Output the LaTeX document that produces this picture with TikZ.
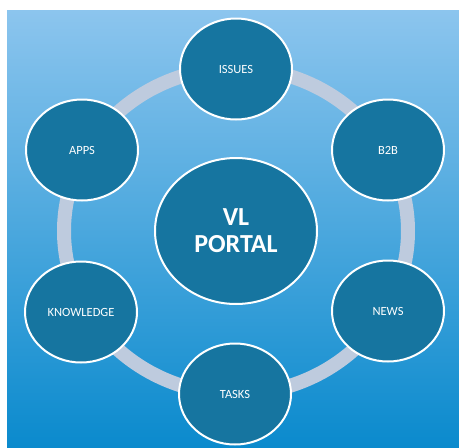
\documentclass[tikz,border=0pt]{standalone}
\usepackage{fontspec}
\setmainfont{Carlito}
\usetikzlibrary{shapes.geometric}
\definecolor{bgtop}{RGB}{140,197,238}
\definecolor{bgbot}{RGB}{10,138,205}
\definecolor{nodefill}{RGB}{22,117,160}
\definecolor{ringcol}{RGB}{190,203,222}
\tikzset{
  sat/.style={ellipse, draw=white, line width=2pt, fill=nodefill, inner sep=0pt,
    minimum width=112pt, minimum height=101pt, text=white, font=\fontsize{12.5}{14}\selectfont},
  hub/.style={ellipse, draw=white, line width=2pt, fill=nodefill, inner sep=0pt,
    minimum width=162pt, minimum height=146pt, text=white, align=center,
    font=\fontsize{26}{27}\selectfont\bfseries},
  ring/.style={draw=ringcol, line width=14pt}
}
\begin{document}
\begin{tikzpicture}[x=1pt,y=-1pt]
\useasboundingbox (0,0) rectangle (459,448);
\fill[white] (0,0) rectangle (459,448);
\shade[top color=bgtop, bottom color=bgbot] (7,10) rectangle (459,448);
\coordinate (c) at (236,231);
\draw[ring] (c) ellipse [x radius=172pt, y radius=163pt];
\node[hub] (portal) at (c) {VL\\PORTAL};
\node[sat] (issues) at (236,69) {ISSUES};
\node[sat] (apps) at (82,150) {APPS};
\node[sat] (b2b) at (388,150) {B2B};
\node[sat] (knowledge) at (81,312) {KNOWLEDGE};
\node[sat] (news) at (388,311) {NEWS};
\node[sat] (tasks) at (235,394) {TASKS};
\end{tikzpicture}
\end{document}
